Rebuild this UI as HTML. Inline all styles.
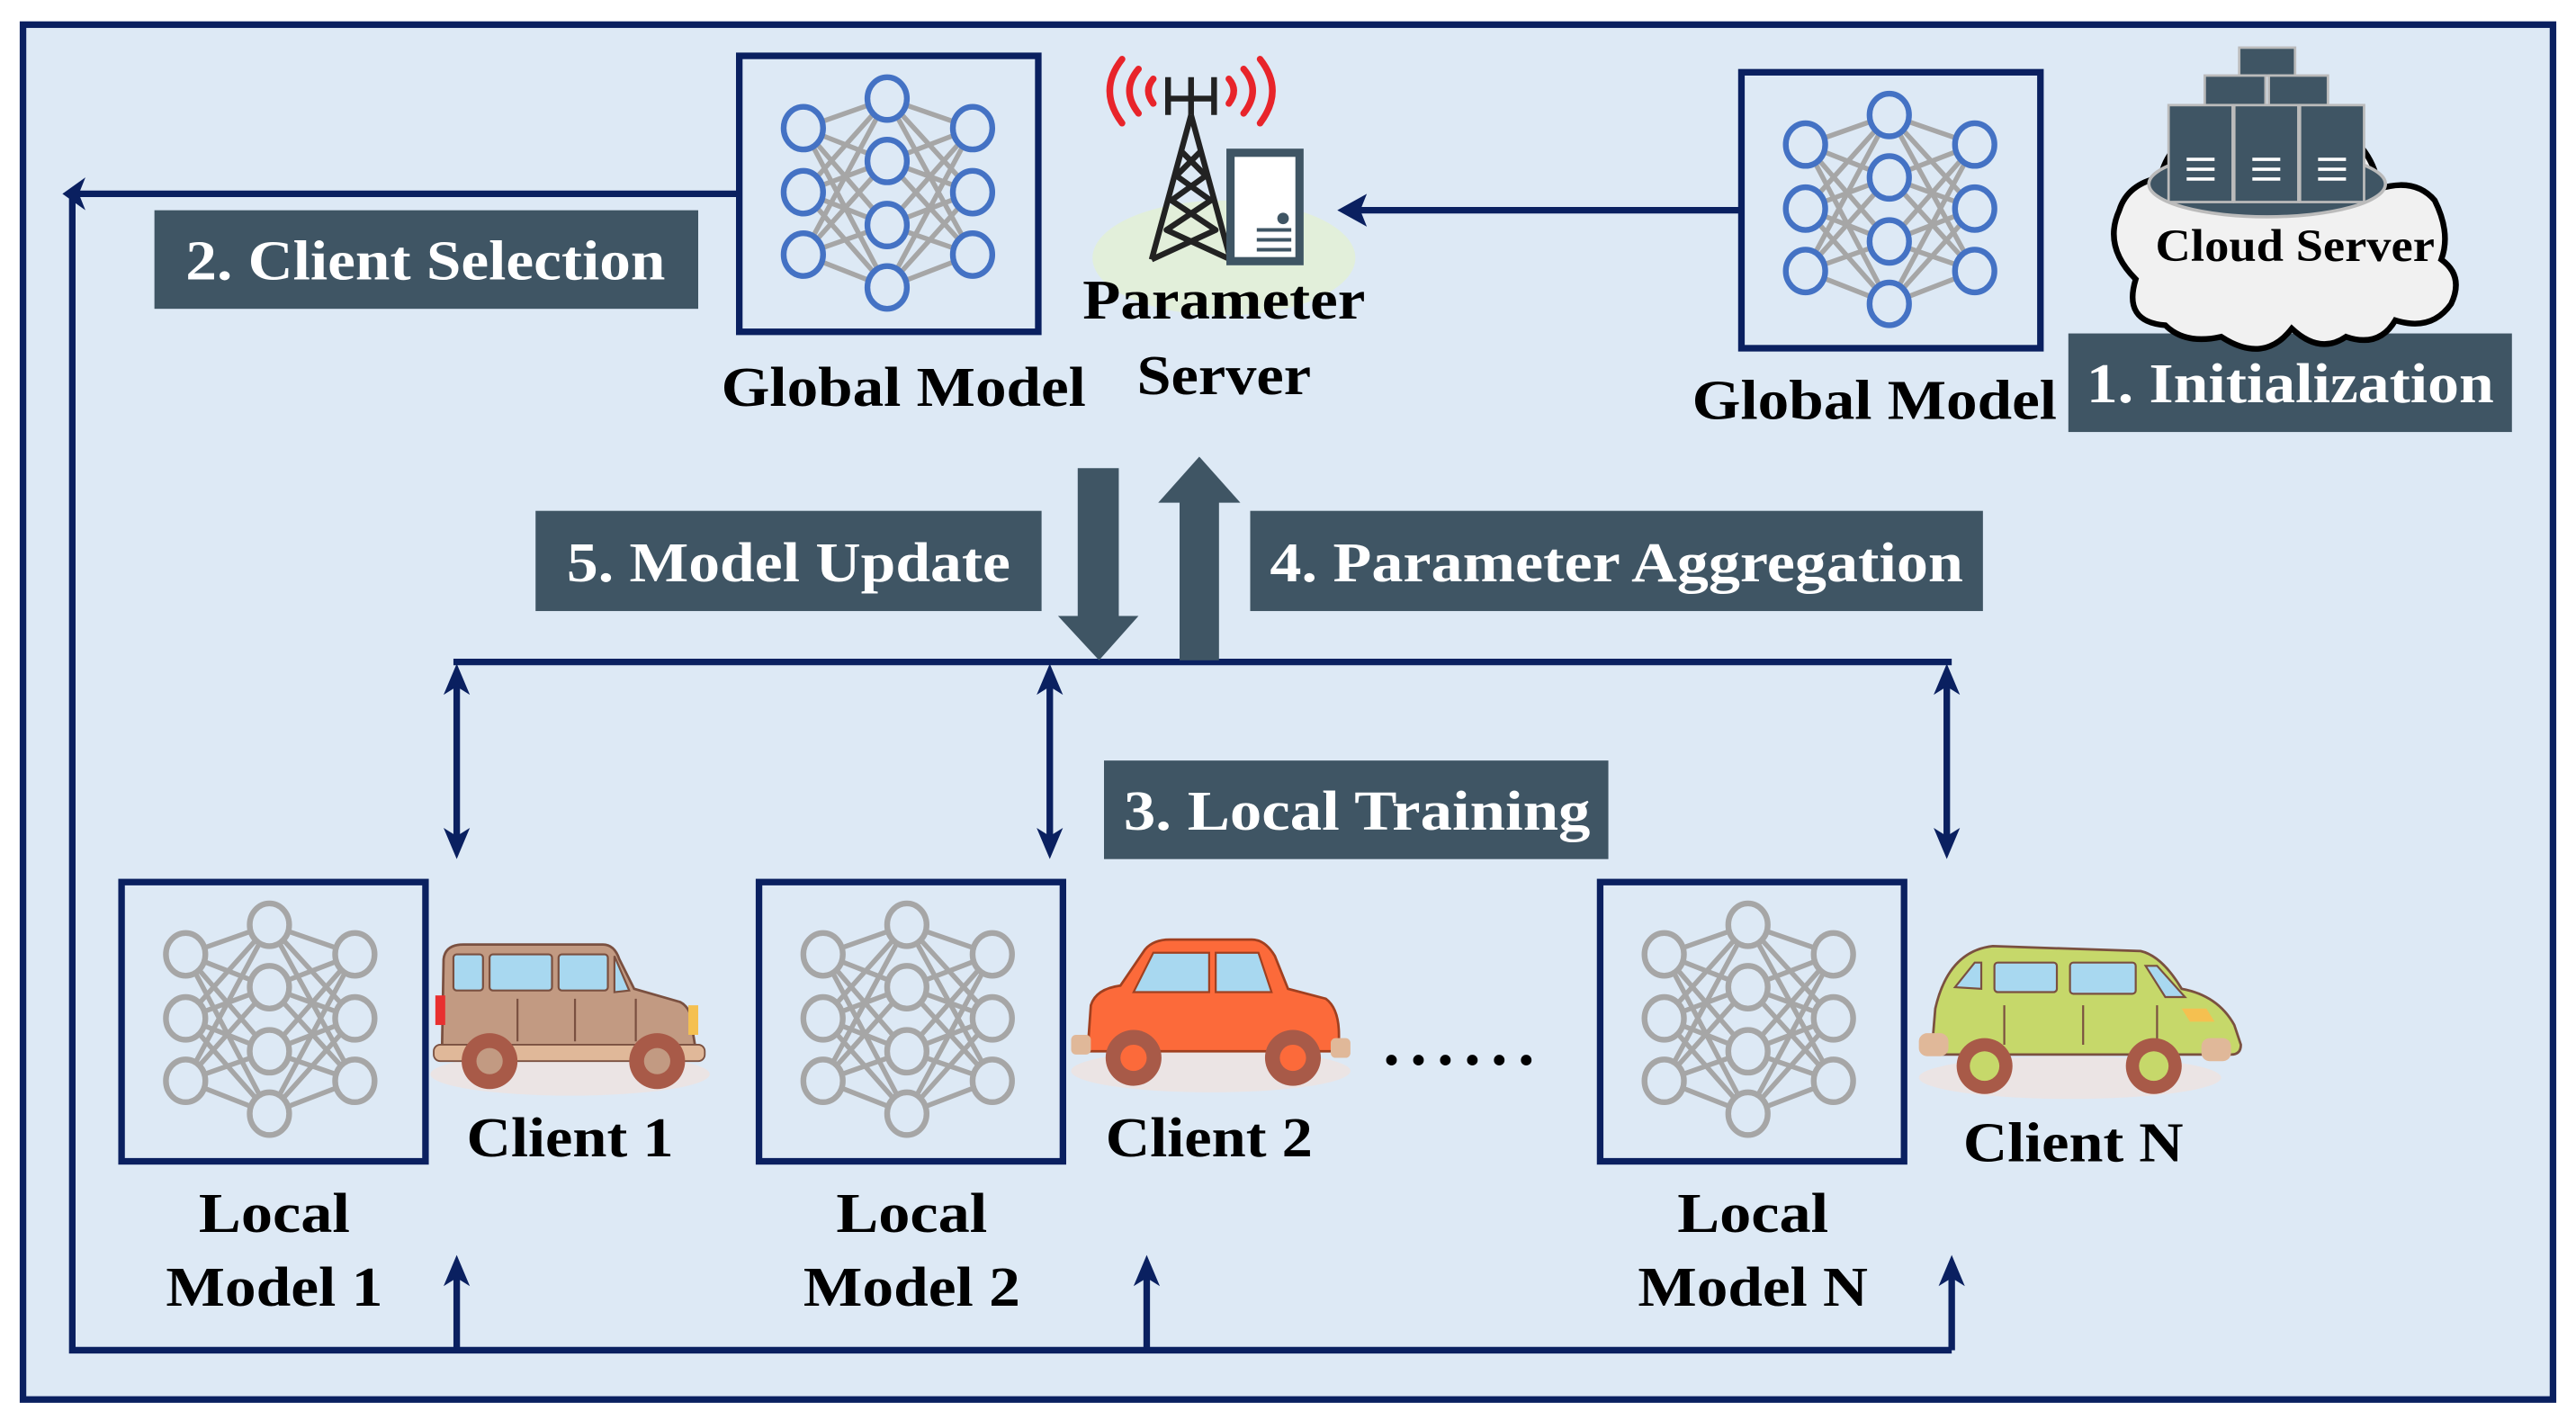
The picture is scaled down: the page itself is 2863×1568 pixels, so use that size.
<!DOCTYPE html>
<html><head><meta charset="utf-8"><style>
html,body{margin:0;padding:0;background:#fff;}
svg{display:block;}
.lb{font-family:"Liberation Serif",serif;font-weight:bold;fill:#fff;font-size:34px;}
.tx{font-family:"Liberation Serif",serif;font-weight:bold;fill:#000;font-size:34px;}
</style></head><body>
<svg width="2863" height="1568" viewBox="0 0 1568 859" preserveAspectRatio="none" xmlns="http://www.w3.org/2000/svg">
<defs>
<g id="edgesB" stroke="#a6a6a6" stroke-width="3" fill="none">
  <path d="M39,44L90,26M39,44L90,64M39,44L90,103M39,44L90,141M39,83L90,26M39,83L90,64M39,83L90,103M39,83L90,141M39,121L90,26M39,121L90,64M39,121L90,103M39,121L90,141"/>
  <path d="M142,44L90,26M142,44L90,64M142,44L90,103M142,44L90,141M142,83L90,26M142,83L90,64M142,83L90,103M142,83L90,141M142,121L90,26M142,121L90,64M142,121L90,103M142,121L90,141"/>
</g>
<g id="nodes">
  <ellipse cx="39" cy="44" rx="12" ry="13"/><ellipse cx="39" cy="83" rx="12" ry="13"/><ellipse cx="39" cy="121" rx="12" ry="13"/>
  <ellipse cx="90" cy="26" rx="12" ry="13"/><ellipse cx="90" cy="64" rx="12" ry="13"/><ellipse cx="90" cy="103" rx="12" ry="13"/><ellipse cx="90" cy="141" rx="12" ry="13"/>
  <ellipse cx="142" cy="44" rx="12" ry="13"/><ellipse cx="142" cy="83" rx="12" ry="13"/><ellipse cx="142" cy="121" rx="12" ry="13"/>
</g>
<g id="netBlue"><rect x="0" y="0" width="182" height="168" fill="none" stroke="#0a2060" stroke-width="4"/><use href="#edgesB"/><g fill="#dde9f5" stroke="#4472c4" stroke-width="3.5"><use href="#nodes"/></g></g>
<g id="netGray"><rect x="0" y="0" width="185" height="170" fill="none" stroke="#0a2060" stroke-width="4"/><use href="#edgesB"/><g fill="#dde9f5" stroke="#a6a6a6" stroke-width="3.5"><use href="#nodes"/></g></g>
</defs>
<rect x="0" y="0" width="1568" height="859" fill="#fff"/>
<rect x="14" y="15" width="1540" height="837" fill="#dde9f5" stroke="#0a2060" stroke-width="4"/>

<!-- connectors -->
<g stroke="#0a2060" stroke-width="4" fill="none">
  <path d="M450,118 H44 V822 H1188"/>
  <path d="M1060,128 H825"/>
  <path d="M276,403 H1188"/>
  <path d="M278,822 V775 M698,822 V775 M1188,822 V775"/>
  <path d="M278,412 V512 M639,412 V512 M1185,412 V512"/>
</g>
<g fill="#0a2060">
  <path d="M38,118 L52,108 L48,118 L52,128Z"/>
  <path d="M814,128 L832,118 L828,128 L832,138Z"/>
  <path d="M278,764 L270,783 L278,778 L286,783Z M698,764 L690,783 L698,778 L706,783Z M1188,764 L1180,783 L1188,778 L1196,783Z"/>
  <path d="M278,404 L270,423 L278,418 L286,423Z M639,404 L631,423 L639,418 L647,423Z M1185,404 L1177,423 L1185,418 L1193,423Z"/>
  <path d="M278,523 L270,504 L278,509 L286,504Z M639,523 L631,504 L639,509 L647,504Z M1185,523 L1177,504 L1185,509 L1193,504Z"/>
</g>

<!-- big arrows -->
<path d="M656,285 H681 V375 H693 L669,402 L644,375 H656Z" fill="#3f5564"/>
<path d="M718,402 V306 H705 L730,278 L755,306 H742 V402Z" fill="#3f5564"/>

<!-- label boxes -->
<rect x="94" y="128" width="331" height="60" fill="#3f5564"/><text class="lb" x="259" y="170" text-anchor="middle" textLength="292" lengthAdjust="spacingAndGlyphs">2. Client Selection</text>
<rect x="1259" y="203" width="270" height="60" fill="#3f5564"/><text class="lb" x="1394" y="245" text-anchor="middle" textLength="248" lengthAdjust="spacingAndGlyphs">1. Initialization</text>
<rect x="326" y="311" width="308" height="61" fill="#3f5564"/><text class="lb" x="480" y="354" text-anchor="middle" textLength="270" lengthAdjust="spacingAndGlyphs">5. Model Update</text>
<rect x="761" y="311" width="446" height="61" fill="#3f5564"/><text class="lb" x="984" y="354" text-anchor="middle" textLength="422" lengthAdjust="spacingAndGlyphs">4. Parameter Aggregation</text>
<rect x="672" y="463" width="307" height="60" fill="#3f5564"/><text class="lb" x="826" y="505" text-anchor="middle" textLength="284" lengthAdjust="spacingAndGlyphs">3. Local Training</text>

<!-- global models -->
<use href="#netBlue" x="450" y="34"/>
<use href="#netBlue" x="1060" y="44"/>
<text class="tx" x="550" y="247" text-anchor="middle" textLength="222" lengthAdjust="spacingAndGlyphs">Global Model</text>
<text class="tx" x="1141" y="255" text-anchor="middle" textLength="222" lengthAdjust="spacingAndGlyphs">Global Model</text>

<!-- parameter server -->
<ellipse cx="745" cy="157" rx="80" ry="35" fill="#e2efda"/>
<g stroke="#e8242a" stroke-width="4" fill="none" stroke-linecap="round">
  <path d="M683,36 Q668,55 683,75"/><path d="M693,42 Q682,55 693,69"/><path d="M702,48 Q696,55 702,63"/>
  <path d="M767,36 Q782,55 767,75"/><path d="M757,42 Q768,55 757,69"/><path d="M748,48 Q754,55 748,63"/>
</g>
<g stroke="#222" stroke-width="3.5" fill="none" stroke-linejoin="round">
  <path d="M711,47 V70 M725,47 V70 M739,47 V70 M711,60 H739"/>
  <path d="M725,70 L701,158 M725,70 L749,158"/>
  <path d="M719,92 L734,107 L713,122 L740,140 L701,158 M731,92 L716,107 L737,122 L710,140 L749,158"/>
</g>
<rect x="749" y="93" width="42" height="66" fill="#fff" stroke="#3f5564" stroke-width="5"/>
<circle cx="781" cy="133" r="3.5" fill="#3f5564"/>
<path d="M765,146 H786 M765,152 H786 M765,140 H786" stroke="#3f5564" stroke-width="2.2"/>
<text class="tx" x="745" y="194" text-anchor="middle" textLength="172" lengthAdjust="spacingAndGlyphs">Parameter</text>
<text class="tx" x="745" y="240" text-anchor="middle" textLength="106" lengthAdjust="spacingAndGlyphs">Server</text>

<!-- cloud server -->
<path d="M1300,170 Q1280,150 1290,128 Q1295,112 1315,108 Q1322,78 1360,76 Q1390,62 1420,75 Q1445,90 1448,115 Q1470,108 1482,122 Q1492,142 1486,158 Q1500,168 1492,185 Q1480,202 1458,195 Q1448,212 1428,205 Q1412,216 1395,200 Q1378,222 1352,205 Q1330,210 1318,198 Q1292,196 1300,170Z" fill="#f1f1f1" stroke="#000" stroke-width="3.5"/>
<ellipse cx="1380" cy="112" rx="72" ry="20" fill="#3f5564" stroke="#bbb" stroke-width="2"/>
<g fill="#3f5564" stroke="#bbb" stroke-width="1.5">
  <rect x="1363" y="29" width="34" height="17"/>
  <rect x="1342" y="46" width="37" height="18"/><rect x="1381" y="46" width="36" height="18"/>
  <rect x="1320" y="64" width="39" height="59"/><rect x="1360" y="64" width="39" height="59"/><rect x="1400" y="64" width="39" height="59"/>
</g>
<g stroke="#fff" stroke-width="2">
  <path d="M1331,97 H1348 M1331,103 H1348 M1331,109 H1348 M1371,97 H1388 M1371,103 H1388 M1371,109 H1388 M1411,97 H1428 M1411,103 H1428 M1411,109 H1428"/>
</g>
<text class="tx" x="1397" y="159" text-anchor="middle" style="font-size:28px" textLength="170" lengthAdjust="spacingAndGlyphs">Cloud Server</text>

<!-- local models -->
<use href="#netGray" x="74" y="537"/>
<use href="#netGray" x="462" y="537"/>
<use href="#netGray" x="974" y="537"/>
<text class="tx" x="167" y="750" text-anchor="middle" textLength="92" lengthAdjust="spacingAndGlyphs">Local</text>
<text class="tx" x="167" y="795" text-anchor="middle" textLength="132" lengthAdjust="spacingAndGlyphs">Model 1</text>
<text class="tx" x="555" y="750" text-anchor="middle" textLength="92" lengthAdjust="spacingAndGlyphs">Local</text>
<text class="tx" x="555" y="795" text-anchor="middle" textLength="132" lengthAdjust="spacingAndGlyphs">Model 2</text>
<text class="tx" x="1067" y="750" text-anchor="middle" textLength="92" lengthAdjust="spacingAndGlyphs">Local</text>
<text class="tx" x="1067" y="795" text-anchor="middle" textLength="140" lengthAdjust="spacingAndGlyphs">Model N</text>

<!-- cars -->
<g transform="translate(262,572)">
  <ellipse cx="85" cy="82" rx="85" ry="13" fill="#ebe4e4"/>
  <path d="M7,70 L8,12 Q9,3 20,3 L105,3 Q112,3 115,12 L124,30 L152,38 Q160,42 160,58 L162,70Z" fill="#c29a82" stroke="#7a5040" stroke-width="1.5"/>
  <rect x="2" y="64" width="165" height="10" rx="4" fill="#e0b899" stroke="#7a5040" stroke-width="1"/>
  <g fill="#a8d8f0" stroke="#7a5040" stroke-width="1.2"><rect x="14" y="9" width="18" height="22" rx="2"/><rect x="36" y="9" width="38" height="22" rx="2"/><rect x="78" y="9" width="30" height="22" rx="2"/><path d="M112,10 L121,31 L112,32Z"/></g>
  <path d="M53,36 V62 M88,36 V62 M125,36 V62" stroke="#7a5040" stroke-width="1.2"/>
  <rect x="3" y="34" width="6" height="18" fill="#e83030"/><rect x="157" y="40" width="6" height="18" fill="#f5c050"/>
  <circle cx="36" cy="74" r="17" fill="#a85a48"/><circle cx="36" cy="74" r="8" fill="#c29a82"/><circle cx="138" cy="74" r="17" fill="#a85a48"/><circle cx="138" cy="74" r="8" fill="#c29a82"/>
</g>
<g transform="translate(652,572)">
  <ellipse cx="85" cy="80" rx="85" ry="13" fill="#ebe4e4"/>
  <path d="M10,68 L12,40 Q15,30 30,28 L45,6 Q50,0 60,0 L110,0 Q118,0 124,10 L132,30 L155,36 Q163,42 163,58 L163,68Z" fill="#fc6a3a" stroke="#a04020" stroke-width="1.5"/>
  <g fill="#a8d8f0" stroke="#a04020" stroke-width="1.2"><path d="M50,8 L84,8 L84,32 L38,32Z"/><path d="M88,8 L114,8 L122,32 L88,32Z"/></g>
  <rect x="0" y="58" width="12" height="12" rx="3" fill="#e0b899"/><rect x="158" y="60" width="12" height="12" rx="3" fill="#e0b899"/>
  <circle cx="38" cy="72" r="17" fill="#a85a48"/><circle cx="38" cy="72" r="8" fill="#fc6a3a"/><circle cx="135" cy="72" r="17" fill="#a85a48"/><circle cx="135" cy="72" r="8" fill="#fc6a3a"/>
</g>
<g transform="translate(1168,574)">
  <ellipse cx="92" cy="82" rx="92" ry="13" fill="#ebe4e4"/>
  <path d="M8,64 L10,40 Q18,5 45,2 L135,5 Q148,8 160,28 Q182,32 192,50 L196,62 Q196,68 190,68 L10,68Z" fill="#c6d86a" stroke="#7a5040" stroke-width="1.5"/>
  <g fill="#a8d8f0" stroke="#7a5040" stroke-width="1.2"><path d="M22,27 L34,12 L38,12 L38,28Z"/><rect x="46" y="12" width="38" height="18" rx="2"/><rect x="92" y="12" width="40" height="19" rx="2"/><path d="M138,14 L150,33 L162,33 L145,14Z"/></g>
  <path d="M52,38 V62 M100,38 V62 M145,38 V62" stroke="#7a5040" stroke-width="1.2"/>
  <rect x="0" y="55" width="18" height="14" rx="5" fill="#e0b899"/><rect x="172" y="58" width="18" height="14" rx="5" fill="#e0b899"/>
  <path d="M160,40 L175,40 L180,48 L165,48Z" fill="#f5c050"/>
  <circle cx="40" cy="75" r="17" fill="#a85a48"/><circle cx="40" cy="75" r="9" fill="#c6d86a"/><circle cx="143" cy="75" r="17" fill="#a85a48"/><circle cx="143" cy="75" r="9" fill="#c6d86a"/>
</g>

<text class="tx" x="347" y="704" text-anchor="middle" textLength="126" lengthAdjust="spacingAndGlyphs">Client 1</text>
<text class="tx" x="736" y="704" text-anchor="middle" textLength="126" lengthAdjust="spacingAndGlyphs">Client 2</text>
<text class="tx" x="1262" y="707" text-anchor="middle" textLength="134" lengthAdjust="spacingAndGlyphs">Client N</text>
<text class="tx" x="888" y="648" text-anchor="middle" style="font-size:40px" textLength="92" lengthAdjust="spacing">......</text>
</svg>
</body></html>
